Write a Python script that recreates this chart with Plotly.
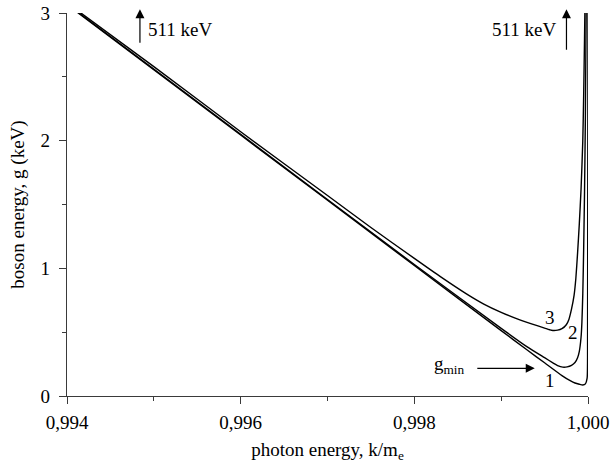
import plotly.graph_objects as go

# Curve 1
k1 = [0.9941, 0.9960, 0.9980, 0.9990, 0.9993, 0.9995, 0.9997, 0.9998, 0.99985,
      0.99990, 0.99994, 0.99997, 0.99999, 0.999995, 1.0]
g1 = [3.015, 2.044, 1.022, 0.512, 0.360, 0.260, 0.160, 0.118, 0.102,
      0.092, 0.086, 0.095, 0.14, 0.30, 3.1]

# Curve 2
k2 = [0.9941, 0.9960, 0.9980, 0.9990, 0.9993, 0.9995, 0.9996, 0.99965, 0.99971,
      0.99976, 0.99981, 0.99985, 0.99988, 0.99990, 0.99992, 0.99993, 0.99994,
      0.99995, 0.99996, 0.99997, 0.99998]
g2 = [3.02, 2.05, 1.03, 0.53, 0.385, 0.30, 0.258, 0.238, 0.226,
      0.228, 0.24, 0.262, 0.30, 0.35, 0.46, 0.58, 0.80,
      1.15, 1.6, 2.2, 3.1]

# Curve 3
k3 = [0.9941, 0.9950, 0.9960, 0.9970, 0.9975, 0.9980, 0.9983, 0.9986, 0.9988,
      0.9990, 0.9992, 0.99935, 0.99950, 0.99958, 0.99965, 0.99970, 0.99975, 0.99978,
      0.99981, 0.99984, 0.99986, 0.99988, 0.99990, 0.99992, 0.99994, 0.99995,
      0.99996, 0.99997]
g3 = [3.03, 2.58, 2.07, 1.57, 1.32, 1.078, 0.935, 0.80, 0.72,
      0.655, 0.60, 0.565, 0.532, 0.515, 0.516, 0.527, 0.558, 0.60,
      0.68, 0.79, 0.92, 1.12, 1.35, 1.62, 2.0, 2.35,
      2.8, 3.3]

x_tickvals = [0.994, 0.996, 0.998, 1.000]
x_ticktext = ["0,994", "0,996", "0,998", "1,000"]
x_minor = [0.995, 0.997, 0.999]
y_tickvals = [0, 1, 2, 3]
y_ticktext = ["0", "1", "2", "3"]
y_minor = [0.5, 1.5, 2.5]

FONT = "Liberation Serif"
AX = "#3a3a3a"
FS = 19

fig = go.Figure()
for kk, gg in [(k1, g1), (k2, g2), (k3, g3)]:
    fig.add_trace(go.Scatter(x=kk, y=gg, mode="lines",
                             line=dict(color="black", width=1.4, shape="spline", smoothing=0.6),
                             showlegend=False, hoverinfo="skip"))

ann = []
# curve labels
for txt, xx, yy in [("3", 0.999559, 0.614), ("2", 0.999828, 0.497), ("1", 0.999559, 0.121)]:
    ann.append(dict(x=xx, y=yy, xref="x", yref="y", text=txt, showarrow=False,
                    font=dict(family=FONT, size=FS, color="black")))
# g_min label and arrow
ann.append(dict(x=0.998408, y=0.24, xref="x", yref="y", text="g<sub>min</sub>",
                showarrow=False, font=dict(family=FONT, size=FS, color="black")))
arrow_style = dict(xref="x", yref="y", axref="x", ayref="y", text="", showarrow=True,
                   arrowhead=2, arrowsize=1.5, arrowwidth=1.2, arrowcolor="black",
                   standoff=0, startstandoff=0)
ann.append(dict(x=0.999387, y=0.217, ax=0.998708, ay=0.217, **arrow_style))
# 511 keV arrows
ann.append(dict(x=0.994840, y=3.03, ax=0.994840, ay=2.755, **arrow_style))
ann.append(dict(x=0.994915, y=2.87, xref="x", yref="y", text="511 keV", showarrow=False,
                xanchor="left", font=dict(family=FONT, size=FS, color="black")))
ann.append(dict(x=0.999752, y=3.03, ax=0.999752, ay=2.70, **arrow_style))
ann.append(dict(x=0.999660, y=2.87, xref="x", yref="y", text="511 keV", showarrow=False,
                xanchor="right", font=dict(family=FONT, size=FS, color="black")))

fig.update_layout(
    width=612, height=466,
    margin=dict(l=67, r=24, t=13, b=70),
    paper_bgcolor="white", plot_bgcolor="white",
    font=dict(family=FONT, size=FS, color="black"),
    annotations=ann,
    xaxis=dict(range=[0.994, 1.000], tickmode="array", tickvals=x_tickvals, ticktext=x_ticktext,
               showgrid=False, zeroline=False, showline=True, linecolor=AX, linewidth=1.3,
               ticks="outside", ticklen=7, tickwidth=1.3, tickcolor=AX, automargin=False,
               ticklabelstandoff=2,
               minor=dict(tickmode="array", tickvals=x_minor, ticks="outside", ticklen=4,
                          tickwidth=1.3, tickcolor=AX, showgrid=False),
               title=dict(text="photon energy, k/m<sub>e</sub>", standoff=10,
                          font=dict(family=FONT, size=FS))),
    yaxis=dict(range=[0, 3], tickmode="array", tickvals=y_tickvals, ticktext=y_ticktext,
               showgrid=False, zeroline=False, showline=True, linecolor=AX, linewidth=1.3,
               ticks="outside", ticklen=7, tickwidth=1.3, tickcolor=AX, automargin=False,
               ticklabelstandoff=5,
               minor=dict(tickmode="array", tickvals=y_minor, ticks="outside", ticklen=4,
                          tickwidth=1.3, tickcolor=AX, showgrid=False),
               title=dict(text="boson energy, g (keV)", standoff=10,
                          font=dict(family=FONT, size=FS))),
)

fig.write_html("out.html", config={"displayModeBar": False},
               post_script="document.body.style.margin='0';")
